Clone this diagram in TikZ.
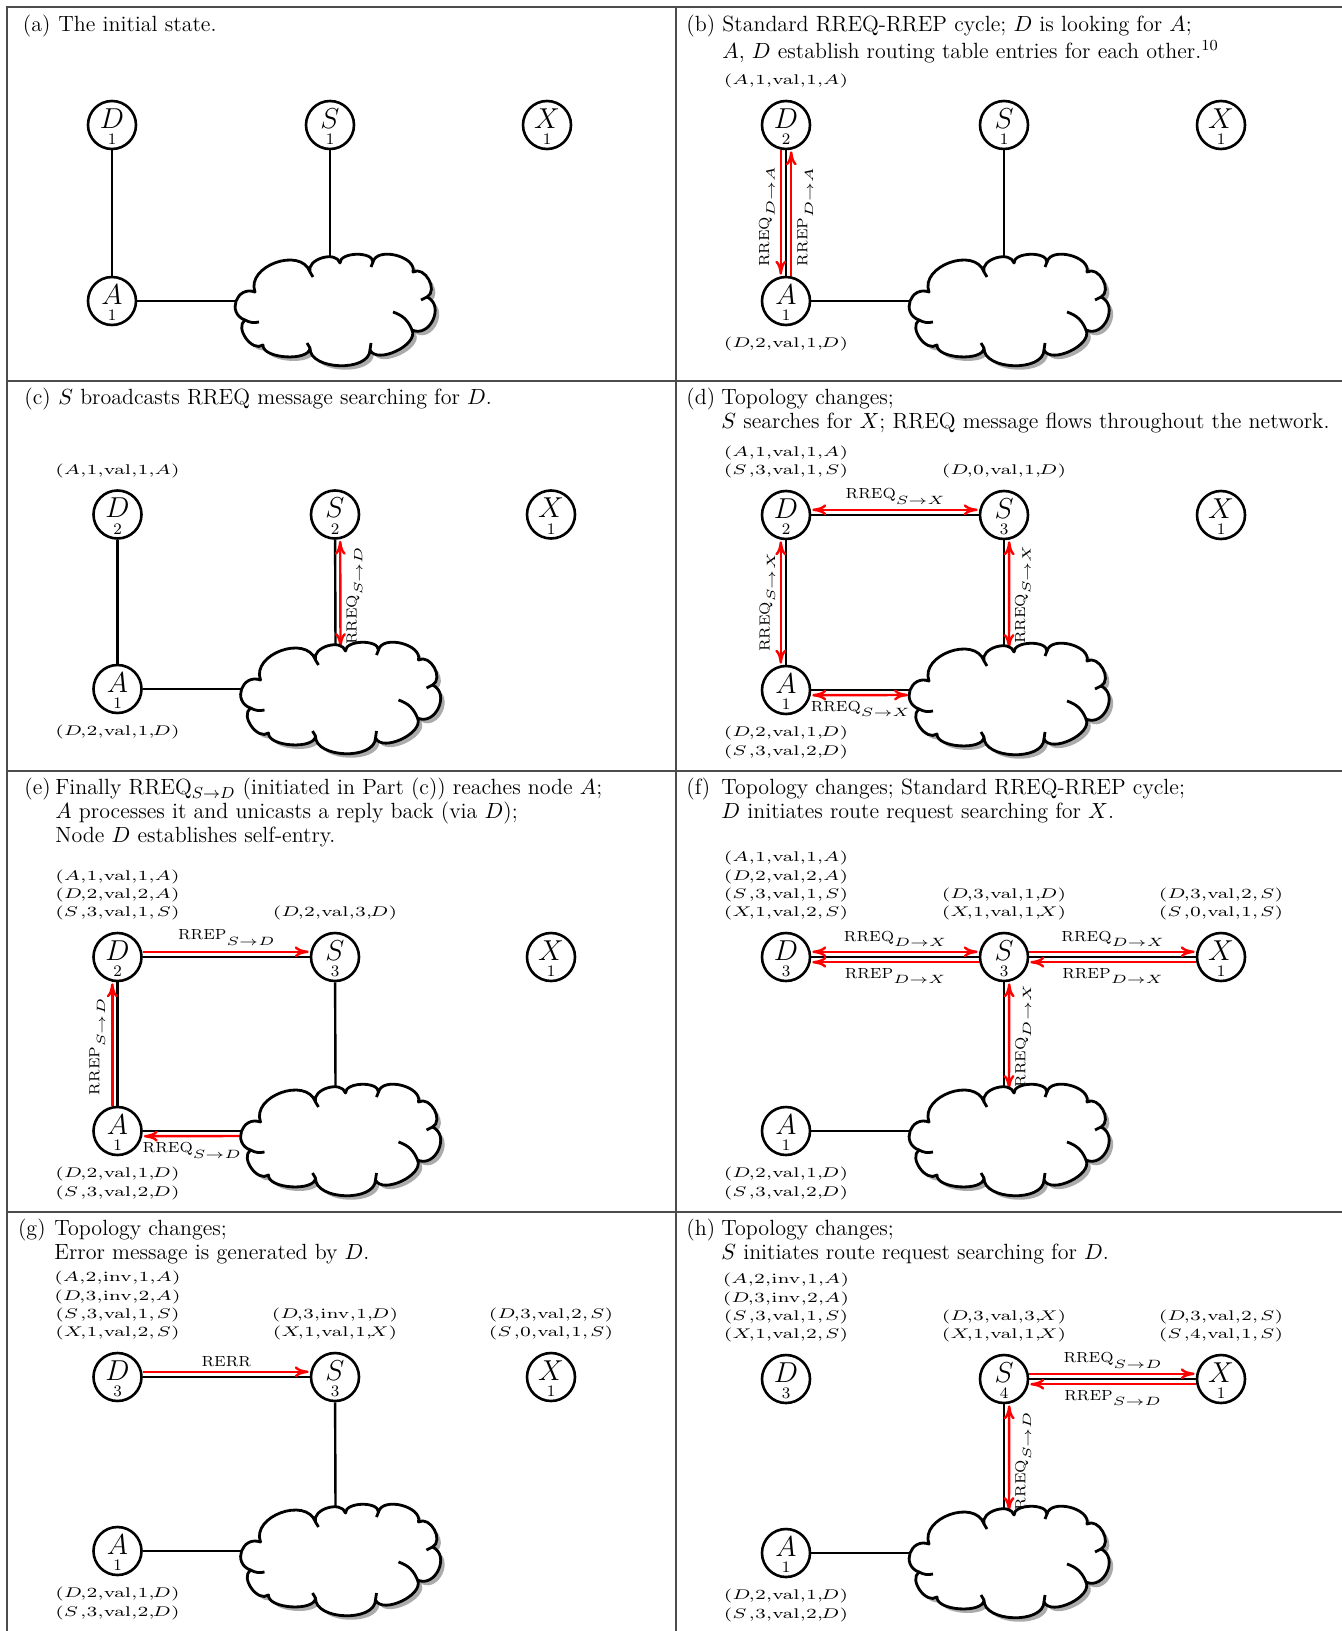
\documentclass[tikz,border=0pt]{standalone}
\usepackage{graphicx}
\usetikzlibrary{arrows.meta,calc}
\pgfdeclarelayer{bg}
\pgfsetlayers{bg,main}
\newcommand\nl[2]{\raisebox{0pt}[0pt][0pt]{\makebox[0pt]{\raisebox{-1.6pt}{\fontsize{13.5}{13.5}\selectfont$#1$}}\makebox[0pt]{\raisebox{-9.8pt}{\footnotesize #2}}}}
\newcommand\tbfont{\fontsize{7}{9.15}\selectfont}
\newcommand\capfont{\fontsize{11}{12}\selectfont}
\newcommand\tbsx{1.36}
\newcommand\re[5]{\scalebox{\tbsx}[1]{$(\makebox[0.85em][l]{$#1$}{,}#2{,}\mathrm{#3}{,}#4{,}\makebox[0.85em][r]{$#5$})$}}
\newcommand\lab[2]{\scalebox{1.04}[1]{\fontsize{7.3}{8}\selectfont #1}\raisebox{-2.8pt}{\scalebox{1.3}[1]{\fontsize{6.5}{7}\selectfont$#2$}}}
\newcommand\cloudpath{(-93,10) to[bend left=90,looseness=1.7] (-83,-18) to[bend left=90,looseness=1.2] (-28,-38) to[bend left=90,looseness=1.1] (2,-47) to[bend left=90,looseness=.85] (35,-48) to[bend left=90,looseness=1] (75,-38) to[bend left=90,looseness=1.2] (89,-13) to[bend left=90,looseness=1.4] (74,20) to[bend left=90,looseness=.9] (32,40) to[bend left=90,looseness=.95] (-28,38) to[bend left=90,looseness=.75] (-75,35) to[bend left=90,looseness=1.1] (-93,10) -- cycle}
\tikzset{
  gridline/.style={draw=black!70, line width=1pt},
  nd/.style={circle, draw, line width=1.3pt, minimum size=24pt, inner sep=0pt},
  blk/.style={line width=1.2pt},
  rarr/.style={draw=red, line width=1.2pt, -{To[length=7pt,width=5.5pt]}, shorten >=0.5pt},
  rarrb/.style={draw=red, line width=1.2pt, {To[length=7pt,width=5.5pt]}-{To[length=7pt,width=5.5pt]}, shorten >=0.5pt, shorten <=0.5pt},
  lbl/.style={inner sep=0pt},
  tbtop/.style={anchor=south, align=center, inner sep=0pt, font=\tbfont},
  tbbot/.style={anchor=north, align=center, inner sep=0pt, font=\tbfont},
  captext/.style={anchor=north west, align=left, inner sep=0pt, font=\capfont},
  caplab/.style={anchor=north west, inner sep=0pt, font=\capfont},
  cloudline/.style={line width=1.4pt, line join=round},
  cloudpic/.pic={
    \fill[black!60, opacity=.55, xshift=2pt, yshift=-2pt] \cloudpath;
    \draw[cloudline, fill=white] \cloudpath;
    \draw[cloudline] (-93,10) to[bend right=20] (-79,12);
    \draw[cloudline] (74,20) to[bend right=25] (55,2);
    \draw[cloudline] (-28,-38) -- (-25,-33);
    \draw[cloudline] (35,-48) -- (33,-43);
    \draw[cloudline] (-28,38) -- (-31,33);
    \draw[cloudline] (32,40) -- (33,33);
    \draw[cloudline] (89,-13) -- (83,-10);
    \coordinate (-w) at (-102,-9);
    \coordinate (-wr) at (-103,-4);
    \coordinate (-n) at (-8,-52);
    \coordinate (-nr) at (-3,-50);
  }
}
\begin{document}
\begin{tikzpicture}[x=0.5pt,y=-0.5pt]
\useasboundingbox (0,0) rectangle (1341,1631);
\begin{pgfonlayer}{bg}
\draw[gridline] (7.3,1640) -- (7.3,7.3) -- (1350,7.3);
\draw[gridline] (7.3,380.7) -- (1350,380.7);
\draw[gridline] (7.3,771) -- (1350,771);
\draw[gridline] (7.3,1212) -- (1350,1212);
\draw[gridline] (676,7.3) -- (676,1640);
\end{pgfonlayer}

% ================= (a)
\node[caplab] (acapl) at (22.5,13.9) {\strut(a)};
\node[captext] (acap) at (58,13.9) {\strut The initial state.};
\node[nd] (aD) at (112,125) {\nl{D}{1}};
\node[nd] (aS) at (330,125) {\nl{S}{1}};
\node[nd] (aX) at (547,125) {\nl{X}{1}};
\node[nd] (aA) at (112,301) {\nl{A}{1}};
\pic (acl) at (338,310) {cloudpic};
\begin{pgfonlayer}{bg}
\draw[blk] (aD) -- (aA);
\draw[blk] (aA) -- (acl-w);
\draw[blk] (aS) -- (acl-n);
\end{pgfonlayer}

% ================= (b)
\node[caplab] (bcapl) at (686,13.9) {\strut(b)};
\node[captext] (bcap) at (722,13.9) {\strut Standard RREQ-RREP cycle; $D$ is looking for $A$;\\ $A$, $D$ establish routing table entries for each other.\textsuperscript{10}};
\node[nd] (bD) at (786,125) {\nl{D}{2}};
\node[nd] (bS) at (1004,125) {\nl{S}{1}};
\node[nd] (bX) at (1221,125) {\nl{X}{1}};
\node[nd] (bA) at (786,301) {\nl{A}{1}};
\pic (bcl) at (1012,310) {cloudpic};
\node[tbtop] (btD) at ($(bD)+(0,-36.3)$) {\re{A}{1}{val}{1}{A}};
\node[tbbot] (btA) at ($(bA)+(0,36)$) {\re{D}{2}{val}{1}{D}};
\begin{pgfonlayer}{bg}
\draw[blk] (bD) -- (bA);
\draw[blk] (bA) -- (bcl-w);
\draw[blk] (bS) -- (bcl-n);
\draw[rarr] ([xshift=-2.6pt]bD.south) -- ([xshift=-2.6pt]bA.north) node[lbl, midway, xshift=-7pt, yshift=-2pt, rotate=90] (blq) {\lab{RREQ}{D{\to}A}};
\draw[rarr] ([xshift=2.6pt]bA.north) -- ([xshift=2.6pt]bD.south) node[lbl, midway, xshift=7pt, yshift=-2pt, rotate=90] (blp) {\lab{RREP}{D{\to}A}};
\end{pgfonlayer}

% ================= (c)
\node[caplab] (ccapl) at (24,387.3) {\strut(c)};
\node[captext] (ccap) at (58,387.3) {\strut $S$ broadcasts RREQ message searching for $D$.};
\node[nd] (cD) at (117.5,514.5) {\nl{D}{2}};
\node[nd] (cS) at (335,514.5) {\nl{S}{2}};
\node[nd] (cX) at (551,514.5) {\nl{X}{1}};
\node[nd] (cA) at (117.5,689) {\nl{A}{1}};
\pic (ccl) at (343.5,698) {cloudpic};
\node[tbtop] (ctD) at ($(cD)+(0,-36.3)$) {\re{A}{1}{val}{1}{A}};
\node[tbbot] (ctA) at ($(cA)+(0,36)$) {\re{D}{2}{val}{1}{D}};
\begin{pgfonlayer}{bg}
\draw[blk] (cD) -- (cA);
\draw[blk] (cA) -- (ccl-w);
\draw[blk] (cS) -- (ccl-n);
\draw[rarrb] ([xshift=2.6pt]cS.south) -- (ccl-nr) node[lbl, midway, xshift=7pt, yshift=-1pt, rotate=90] (clq) {\lab{RREQ}{S{\to}D}};
\end{pgfonlayer}

% ================= (d)
\node[caplab] (dcapl) at (686,387.3) {\strut(d)};
\node[captext] (dcap) at (721,387.3) {\strut Topology changes;\\ $S$ searches for $X$; RREQ message flows throughout the network.};
\node[nd] (dD) at (786,515) {\nl{D}{2}};
\node[nd] (dS) at (1004,515) {\nl{S}{3}};
\node[nd] (dX) at (1221,515) {\nl{X}{1}};
\node[nd] (dA) at (786,690) {\nl{A}{1}};
\pic (dcl) at (1012,699) {cloudpic};
\node[tbtop] (dtD) at ($(dD)+(0,-36.3)$) {\re{A}{1}{val}{1}{A}\\\re{S}{3}{val}{1}{S}};
\node[tbtop] (dtS) at ($(dS)+(0,-36.3)$) {\re{D}{0}{val}{1}{D}};
\node[tbbot] (dtA) at ($(dA)+(0,36)$) {\re{D}{2}{val}{1}{D}\\\re{S}{3}{val}{2}{D}};
\begin{pgfonlayer}{bg}
\draw[blk] (dD) -- (dS);
\draw[blk] (dD) -- (dA);
\draw[blk] (dA) -- (dcl-w);
\draw[blk] (dS) -- (dcl-n);
\draw[rarrb] ([yshift=2.6pt]dD.east) -- ([yshift=2.6pt]dS.west) node[lbl, midway, yshift=6.6pt] (dl1) {\lab{RREQ}{S{\to}X}};
\draw[rarrb] ([xshift=-2.6pt]dD.south) -- ([xshift=-2.6pt]dA.north) node[lbl, midway, xshift=-6.8pt, rotate=90] (dl2) {\lab{RREQ}{S{\to}X}};
\draw[rarrb] ([xshift=2.6pt]dS.south) -- (dcl-nr) node[lbl, midway, xshift=6.8pt, rotate=90] (dl3) {\lab{RREQ}{S{\to}X}};
\draw[rarrb] ([yshift=-2.6pt]dA.east) -- (dcl-wr) node[lbl, midway, yshift=-6.8pt] (dl4) {\lab{RREQ}{S{\to}X}};
\end{pgfonlayer}

% ================= (e)
\node[caplab] (ecapl) at (24,777.6) {\strut(e)};
\node[captext] (ecap) at (55,777.6) {\strut Finally RREQ$_{S\to D}$ (initiated in Part (c)) reaches node $A$;\\ $A$ processes it and unicasts a reply back (via $D$);\\ Node $D$ establishes self-entry.};
\node[nd] (eD) at (117.5,957) {\nl{D}{2}};
\node[nd] (eS) at (335,957) {\nl{S}{3}};
\node[nd] (eX) at (551,957) {\nl{X}{1}};
\node[nd] (eA) at (117.5,1131) {\nl{A}{1}};
\pic (ecl) at (343.5,1140) {cloudpic};
\node[tbtop] (etD) at ($(eD)+(0,-36.3)$) {\re{A}{1}{val}{1}{A}\\\re{D}{2}{val}{2}{A}\\\re{S}{3}{val}{1}{S}};
\node[tbtop] (etS) at ($(eS)+(0,-36.3)$) {\re{D}{2}{val}{3}{D}};
\node[tbbot] (etA) at ($(eA)+(0,36)$) {\re{D}{2}{val}{1}{D}\\\re{S}{3}{val}{2}{D}};
\begin{pgfonlayer}{bg}
\draw[blk] (eD) -- (eS);
\draw[blk] (eD) -- (eA);
\draw[blk] (eA) -- (ecl-w);
\draw[blk] (eS) -- (ecl-n);
\draw[rarr] ([yshift=2.6pt]eD.east) -- ([yshift=2.6pt]eS.west) node[lbl, midway, yshift=7pt] (el1) {\lab{RREP}{S{\to}D}};
\draw[rarr] ([xshift=-2.6pt]eA.north) -- ([xshift=-2.6pt]eD.south) node[lbl, midway, xshift=-7.5pt, yshift=-1.5pt, rotate=90] (el2) {\lab{RREP}{S{\to}D}};
\draw[rarr] (ecl-wr) -- ([yshift=-2.6pt]eA.east) node[lbl, midway, yshift=-7pt] (el3) {\lab{RREQ}{S{\to}D}};
\end{pgfonlayer}

% ================= (f)
\node[caplab] (fcapl) at (686,777.6) {\strut(f)};
\node[captext] (fcap) at (721,777.6) {\strut Topology changes; Standard RREQ-RREP cycle;\\ $D$ initiates route request searching for $X$.};
\node[nd] (fD) at (786,957) {\nl{D}{3}};
\node[nd] (fS) at (1004,957) {\nl{S}{3}};
\node[nd] (fX) at (1221,957) {\nl{X}{1}};
\node[nd] (fA) at (786,1131) {\nl{A}{1}};
\pic (fcl) at (1012,1140) {cloudpic};
\node[tbtop] (ftD) at ($(fD)+(0,-36.3)$) {\re{A}{1}{val}{1}{A}\\\re{D}{2}{val}{2}{A}\\\re{S}{3}{val}{1}{S}\\\re{X}{1}{val}{2}{S}};
\node[tbtop] (ftS) at ($(fS)+(0,-36.3)$) {\re{D}{3}{val}{1}{D}\\\re{X}{1}{val}{1}{X}};
\node[tbtop] (ftX) at ($(fX)+(0,-36.3)$) {\re{D}{3}{val}{2}{S}\\\re{S}{0}{val}{1}{S}};
\node[tbbot] (ftA) at ($(fA)+(0,36)$) {\re{D}{2}{val}{1}{D}\\\re{S}{3}{val}{2}{D}};
\begin{pgfonlayer}{bg}
\draw[blk] (fD) -- (fS);
\draw[blk] (fS) -- (fX);
\draw[blk] (fS) -- (fcl-n);
\draw[blk] (fA) -- (fcl-w);
\draw[rarrb] ([yshift=2.6pt]fD.east) -- ([yshift=2.6pt]fS.west) node[lbl, midway, yshift=6.5pt] (fl1) {\lab{RREQ}{D{\to}X}};
\draw[rarr] ([yshift=-2.6pt]fS.west) -- ([yshift=-2.6pt]fD.east) node[lbl, midway, yshift=-7pt] (fl2) {\lab{RREP}{D{\to}X}};
\draw[rarr] ([yshift=2.6pt]fS.east) -- ([yshift=2.6pt]fX.west) node[lbl, midway, yshift=6.5pt] (fl3) {\lab{RREQ}{D{\to}X}};
\draw[rarr] ([yshift=-2.6pt]fX.west) -- ([yshift=-2.6pt]fS.east) node[lbl, midway, yshift=-7pt] (fl4) {\lab{RREP}{D{\to}X}};
\draw[rarrb] ([xshift=2.6pt]fS.south) -- (fcl-nr) node[lbl, midway, xshift=7pt, rotate=90] (fl5) {\lab{RREQ}{D{\to}X}};
\end{pgfonlayer}

% ================= (g)
\node[caplab] (gcapl) at (17.7,1218.6) {\strut(g)};
\node[captext] (gcap) at (54,1218.6) {\strut Topology changes;\\ Error message is generated by $D$.};
\node[nd] (gD) at (117.5,1377) {\nl{D}{3}};
\node[nd] (gS) at (335,1377) {\nl{S}{3}};
\node[nd] (gX) at (551,1377) {\nl{X}{1}};
\node[nd] (gA) at (117.5,1551) {\nl{A}{1}};
\pic (gcl) at (343.5,1560) {cloudpic};
\node[tbtop] (gtD) at ($(gD)+(0,-36.3)$) {\re{A}{2}{inv}{1}{A}\\\re{D}{3}{inv}{2}{A}\\\re{S}{3}{val}{1}{S}\\\re{X}{1}{val}{2}{S}};
\node[tbtop] (gtS) at ($(gS)+(0,-36.3)$) {\re{D}{3}{inv}{1}{D}\\\re{X}{1}{val}{1}{X}};
\node[tbtop] (gtX) at ($(gX)+(0,-36.3)$) {\re{D}{3}{val}{2}{S}\\\re{S}{0}{val}{1}{S}};
\node[tbbot] (gtA) at ($(gA)+(0,36)$) {\re{D}{2}{val}{1}{D}\\\re{S}{3}{val}{2}{D}};
\begin{pgfonlayer}{bg}
\draw[blk] (gD) -- (gS);
\draw[blk] (gS) -- (gcl-n);
\draw[blk] (gA) -- (gcl-w);
\draw[rarr] ([yshift=2.6pt]gD.east) -- ([yshift=2.6pt]gS.west) node[lbl, midway, yshift=5pt] (gl1) {\scalebox{1.04}[1]{\fontsize{7.3}{8}\selectfont RERR}};
\end{pgfonlayer}

% ================= (h)
\node[caplab] (hcapl) at (686,1218.6) {\strut(h)};
\node[captext] (hcap) at (721,1218.6) {\strut Topology changes;\\ $S$ initiates route request searching for $D$.};
\node[nd] (hD) at (786,1379) {\nl{D}{3}};
\node[nd] (hS) at (1004,1379) {\nl{S}{4}};
\node[nd] (hX) at (1221,1379) {\nl{X}{1}};
\node[nd] (hA) at (786,1553) {\nl{A}{1}};
\pic (hcl) at (1012,1562) {cloudpic};
\node[tbtop] (htD) at ($(hD)+(0,-36.3)$) {\re{A}{2}{inv}{1}{A}\\\re{D}{3}{inv}{2}{A}\\\re{S}{3}{val}{1}{S}\\\re{X}{1}{val}{2}{S}};
\node[tbtop] (htS) at ($(hS)+(0,-36.3)$) {\re{D}{3}{val}{3}{X}\\\re{X}{1}{val}{1}{X}};
\node[tbtop] (htX) at ($(hX)+(0,-36.3)$) {\re{D}{3}{val}{2}{S}\\\re{S}{4}{val}{1}{S}};
\node[tbbot] (htA) at ($(hA)+(0,36)$) {\re{D}{2}{val}{1}{D}\\\re{S}{3}{val}{2}{D}};
\begin{pgfonlayer}{bg}
\draw[blk] (hS) -- (hX);
\draw[blk] (hS) -- (hcl-n);
\draw[blk] (hA) -- (hcl-w);
\draw[rarr] ([yshift=2.6pt]hS.east) -- ([yshift=2.6pt]hX.west) node[lbl, midway, yshift=6.8pt] (hl1) {\lab{RREQ}{S{\to}D}};
\draw[rarr] ([yshift=-2.6pt]hX.west) -- ([yshift=-2.6pt]hS.east) node[lbl, midway, yshift=-6.8pt] (hl2) {\lab{RREP}{S{\to}D}};
\draw[rarrb] ([xshift=2.6pt]hS.south) -- (hcl-nr) node[lbl, midway, xshift=7pt, yshift=-1.5pt, rotate=90] (hl3) {\lab{RREQ}{S{\to}D}};
\end{pgfonlayer}
\end{tikzpicture}
\end{document}
